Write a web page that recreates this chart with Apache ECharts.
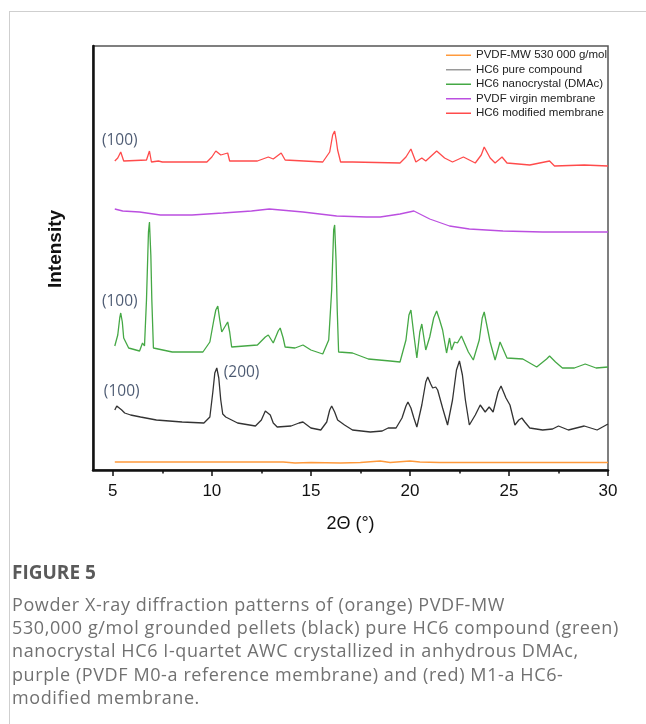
<!DOCTYPE html>
<html><head><meta charset="utf-8">
<script src="https://cdn.jsdelivr.net/npm/echarts@6/dist/echarts.min.js"></script>
<style>
html,body{margin:0;padding:0;background:#fff;width:646px;height:724px;overflow:hidden;}
#card{position:absolute;left:9px;top:11px;width:700px;height:800px;border-left:1px solid #cfcfcf;border-top:1px solid #cfcfcf;}
#chart{position:absolute;left:0;top:0;width:646px;height:724px;}
#cap{position:absolute;left:12px;top:559px;font-family:'Open Sans',sans-serif;color:#717171;font-size:18px;letter-spacing:0.6px;line-height:23.2px;white-space:nowrap;}
#cap .fig{font-weight:bold;color:#5a5a5a;margin-bottom:8px;font-size:19px;letter-spacing:0;line-height:26px;}
</style></head><body>
<div id="card"></div>
<div id="chart"></div>
<div id="cap"><div class="fig">FIGURE 5</div>Powder X-ray diffraction patterns of (orange) PVDF-MW<br>530,000 g/mol grounded pellets (black) pure HC6 compound (green)<br>nanocrystal HC6 I-quartet AWC crystallized in anhydrous DMAc,<br>purple (PVDF M0-a reference membrane) and (red) M1-a HC6-<br>modified membrane.</div>
<script>
const xMajorTicks = [5, 10, 15, 20, 25, 30];
const xMinorTicks = [7.5, 12.5, 17.5, 22.5, 27.5];
const seriesNames = ['PVDF-MW 530 000 g/mol', 'HC6 pure compound', 'HC6 nanocrystal (DMAc)', 'PVDF virgin membrane', 'HC6 modified membrane'];

const pvdfMW = [[5.1,8],[8,8],[11,8],[13.6,8],[14.2,7],[15,7.5],[16.5,7],[17.5,7.5],[18.5,9],[19,7.5],[20,9],[20.5,8],[21.5,7.5],[24,7.5],[26,7.5],[28,7.5],[30,7.5]];

const hc6Pure = [[5.1,60],[5.2,64],[5.3,66],[5.45,60],[5.6,57],[5.9,55],[6.4,53],[7.2,50],[8.5,48],[9.6,47],[9.9,53],[10.05,78],[10.15,97],[10.25,102],[10.35,92],[10.45,70],[10.55,56],[10.7,53],[11.3,47],[12.2,44],[12.5,50],[12.7,59],[12.8,60],[12.95,55],[13.1,47],[13.3,43],[14.0,44],[14.4,47],[14.6,48],[15.0,42],[15.5,40],[15.8,48],[15.95,60],[16.05,64],[16.2,58],[16.35,50],[16.7,45],[17.1,40],[18.0,38],[18.6,39],[18.9,42],[19.3,42],[19.6,52],[19.8,64],[19.9,68],[20.05,62],[20.2,52],[20.35,43],[20.6,65],[20.8,88],[20.9,93],[21.05,86],[21.15,82],[21.3,83],[21.4,80],[21.65,62],[21.9,45],[22.15,70],[22.35,100],[22.5,109],[22.65,95],[22.8,70],[23.0,45],[23.3,55],[23.55,65],[23.8,58],[24.0,63],[24.2,58],[24.45,78],[24.6,84],[24.7,82],[24.85,72],[25.05,65],[25.3,45],[25.5,50],[25.65,52],[25.8,48],[26.05,42],[26.7,40],[27.2,41],[27.5,44],[28.0,40],[28.8,44],[29.45,40],[30,46]];

const hc6Nano = [[5.1,124],[5.25,135],[5.35,152],[5.4,157],[5.48,148],[5.55,132],[5.8,122],[6.35,119],[6.5,127],[6.6,124],[6.7,170],[6.8,238],[6.85,248],[6.92,215],[6.97,170],[7.05,122],[8.0,118],[9.55,118],[9.9,128],[10.1,150],[10.2,160],[10.3,164],[10.4,150],[10.5,138],[10.65,143],[10.8,148],[10.9,138],[11.0,123],[12.3,125],[12.7,133],[12.85,135],[13.1,127],[13.35,139],[13.45,142],[13.6,132],[13.7,123],[14.2,122],[14.6,125],[15.0,120],[15.6,116],[15.9,130],[16.05,180],[16.15,240],[16.2,245],[16.27,210],[16.33,160],[16.4,118],[17.1,117],[17.9,111],[19.0,109],[19.5,108],[19.8,130],[19.95,155],[20.05,160],[20.2,135],[20.35,112],[20.5,138],[20.6,146],[20.8,120],[21.0,133],[21.2,152],[21.35,159],[21.5,150],[21.65,140],[21.85,117],[22.0,132],[22.1,120],[22.25,128],[22.4,127],[22.6,134],[22.7,133],[22.95,118],[23.2,110],[23.5,130],[23.65,152],[23.75,158],[23.85,148],[24.05,128],[24.3,110],[24.55,128],[24.65,130],[24.9,112],[25.7,111],[26.4,103],[26.9,111],[27.05,114],[27.35,108],[27.7,102],[28.3,102],[28.85,106],[29.4,102],[30,103]];

const pvdfVirgin = [[5.1,261],[5.5,259],[6.35,258],[7.4,255],[9.0,255],[10.55,257],[12.0,259],[12.9,261],[14.6,258],[16.3,254],[17.8,253],[18.5,253],[19.5,256],[20.2,259],[21.0,251],[22.0,244],[23.0,241],[24.7,239],[26.7,238],[30,238]];

const hc6Membrane = [[5.1,309],[5.25,312],[5.4,318],[5.55,309],[6.7,310],[6.85,319],[6.95,308],[7.3,309],[7.5,308],[9.75,308],[10.0,313],[10.2,319],[10.45,315],[10.8,317],[10.9,309],[12.3,309],[12.85,313],[13.1,311],[13.5,317],[13.7,310],[15.6,308],[15.95,318],[16.1,335],[16.2,339],[16.28,330],[16.35,320],[16.5,308],[17.1,308],[19.5,307],[19.8,313],[20.05,321],[20.3,308],[20.6,312],[20.8,309],[21.35,319],[21.75,312],[22.15,308],[22.7,313],[23.3,307],[23.6,315],[23.75,323],[24.05,312],[24.3,307],[24.65,313],[24.9,307],[26.05,305],[27.05,309],[27.3,304],[28.8,305],[30,304]];

const annotations = [[5.35,329,'(100)'],[5.35,168,'(100)'],[5.45,78,'(100)'],[11.5,97,'(200)']];

const colors = ['#ff9a3c', '#333333', '#45a845', '#bb4fe0', '#ff4b4b'];
const legendColors = ['#ff9a3c', '#9a9a9a', '#45a845', '#bb4fe0', '#ff4b4b'];
const datasets = [pvdfMW, hc6Pure, hc6Nano, pvdfVirgin, hc6Membrane];

const chart = echarts.init(document.getElementById('chart'));
const series = datasets.map((d, i) => ({
  name: seriesNames[i], type: 'line', data: d, symbol: 'none', showSymbol: false,
  lineStyle: { color: colors[i], width: 1.3 }, itemStyle: { color: colors[i] }, animation: false
}));
series.push({
  type: 'scatter', data: annotations.map(a => [a[0], a[1], a[2]]), symbolSize: 1,
  itemStyle: { color: 'rgba(0,0,0,0)' }, silent: true, animation: false,
  label: { show: true, position: 'inside', align: 'center', verticalAlign: 'middle',
    formatter: p => p.data[2], fontFamily: 'Open Sans', fontSize: 15.5, color: '#1e2f4d' }
});
chart.setOption({
  animation: false,
  grid: { left: 93, right: 38, top: 46, bottom: 254, show: true, borderColor: '#555', borderWidth: 1.5, backgroundColor: 'transparent' },
  legend: {
    orient: 'vertical', left: 441, top: 44, itemWidth: 25, itemHeight: 1.5, itemGap: 2, icon: 'rect',
    data: seriesNames.map((n, i) => ({ name: n, itemStyle: { color: legendColors[i] } })),
    textStyle: { fontFamily: 'Liberation Sans', fontSize: 11.5, color: '#222', lineHeight: 12.5 }
  },
  xAxis: [{
    type: 'value', min: 4, max: 30,
    axisLine: { show: true, lineStyle: { color: '#111', width: 2.5 } },
    axisTick: { show: true, customValues: xMajorTicks, length: 6, lineStyle: { color: '#111', width: 1.5 } },
    axisLabel: { customValues: xMajorTicks, fontFamily: 'Liberation Sans', fontSize: 17, color: '#111', margin: 13 },
    splitLine: { show: false },
    name: '2Θ (°)', nameLocation: 'middle', nameGap: 45,
    nameTextStyle: { fontFamily: 'Liberation Sans', fontSize: 18, color: '#111' }
  }, {
    type: 'value', min: 4, max: 30, position: 'bottom', gridIndex: 0,
    axisLine: { show: false },
    axisTick: { show: true, customValues: xMinorTicks, length: 3.5, lineStyle: { color: '#111', width: 1.5 } },
    axisLabel: { show: false }, splitLine: { show: false }
  }],
  yAxis: {
    type: 'value', min: 0, max: 424,
    axisLine: { show: true, lineStyle: { color: '#111', width: 2.5 } },
    axisTick: { show: false }, axisLabel: { show: false }, splitLine: { show: false },
    name: 'Intensity', nameLocation: 'middle', nameGap: 28, nameRotate: 90,
    nameTextStyle: { fontFamily: 'Liberation Sans', fontSize: 19, fontWeight: 'bold', color: '#111', padding: [0, 0, 0, 18] }
  },
  series: series
});
</script>
</body></html>
